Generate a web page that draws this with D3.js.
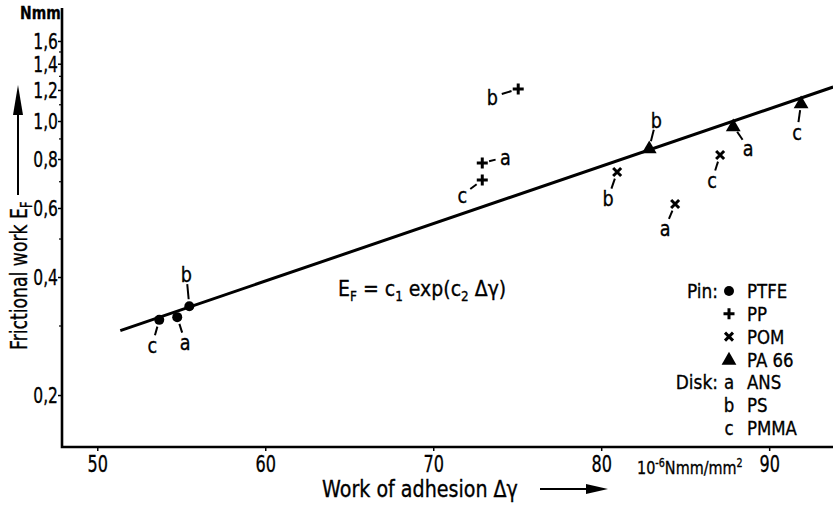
<!DOCTYPE html>
<html><head><meta charset="utf-8">
<script src="https://cdn.jsdelivr.net/npm/d3@7"></script>
<style>
body{margin:0;background:#fff}
svg{display:block}
text{font-family:"DejaVu Sans",sans-serif;fill:#000;stroke:#000;stroke-width:0.35px}
</style>
</head><body>
<svg id="c" width="833" height="505"></svg>
<script>
// ---- data ----
const pins = ["PTFE", "PP", "POM", "PA66"];
const pinLabels = ["PTFE", "PP", "POM", "PA 66"];
const diskKeys = ["a", "b", "c"];
const diskNames = ["ANS", "PS", "PMMA"];
// work of adhesion (10^-6 Nmm/mm^2), order a, b, c
const ptfeX = [54.76, 55.48, 53.69];
const ppX   = [72.92, 75.06, 72.92];
const pomX  = [84.40, 80.95, 87.08];
const pa66X = [87.86, 82.86, 91.90];
// frictional work (Nmm), order a, b, c
const ptfeY = [0.316, 0.337, 0.311];
const ppY   = [0.781, 1.207, 0.707];
const pomY  = [0.614, 0.741, 0.819];
const pa66Y = [0.971, 0.853, 1.111];
// fitted line E_F = c1 exp(c2 Δγ), end points
const fitX = [51.37, 93.81];
const fitY = [0.292, 1.221];
const yTickMajor = [0.2, 0.4, 0.6, 0.8, 1.0, 1.2, 1.4, 1.6];
const yTickMinor = [0.3, 0.5, 0.7, 0.9, 1.1, 1.3, 1.5];
const xTicks = [50, 60, 70, 80, 90];

// ---- layout (label offsets in px, per pin, order a,b,c) ----
const labelOffsets = {
  PTFE: [[8, 25], [-3, -32], [-7, 25]],
  PP:   [[23, -6], [-26, 8], [-20, 15]],
  POM:  [[-10, 24], [-9, 26], [-8, 25]],
  PA66: [[15, 22], [7, -28], [-4, 29]]
};

const xs = {PTFE: ptfeX, PP: ppX, POM: pomX, PA66: pa66X};
const ys = {PTFE: ptfeY, PP: ppY, POM: pomY, PA66: pa66Y};
const points = [];
pins.forEach(p => diskKeys.forEach((d, i) => points.push({pin: p, disk: d, x: xs[p][i], y: ys[p][i], off: labelOffsets[p][i]})));

const svg = d3.select("#c");
const x = d3.scaleLinear().domain([47.9, 93.8]).range([62, 833]);
const y = d3.scaleLog().domain([0.1474, 1.942]).range([447, 8]);

// condensed-text helper: squeeze glyphs horizontally around their anchor
function cond(sel, s) {
  sel.each(function () {
    const el = d3.select(this);
    const tx = +(el.attr("x") || 0), ty = +(el.attr("y") || 0);
    const t = el.attr("transform") || "";
    el.attr("x", 0).attr("y", 0).attr("transform", `${t} translate(${tx},${ty}) scale(${s},1)`);
  });
}

// axes
const yAxis = d3.axisLeft(y).tickValues(yTickMajor).tickSize(4).tickFormat(d => d3.format(".1f")(d).replace(".", ","));
const gy = svg.append("g").attr("transform", "translate(62,0)").call(yAxis);
gy.select(".domain").remove();
gy.selectAll("line").attr("stroke", "#000").attr("stroke-width", 1.5);
gy.selectAll("text").attr("font-size", 21).attr("x", -4).attr("dy", "0.36em").attr("font-family", "DejaVu Sans");
cond(gy.selectAll("text"), 0.74);
svg.append("g").selectAll("line").data(yTickMinor).join("line")
  .attr("x1", 59).attr("x2", 62).attr("y1", d => y(d)).attr("y2", d => y(d))
  .attr("stroke", "#000").attr("stroke-width", 1.2);

const xAxis = d3.axisBottom(x).tickValues(xTicks).tickSize(4).tickFormat(d3.format("d"));
const gx = svg.append("g").attr("transform", "translate(0,447)").call(xAxis);
gx.select(".domain").remove();
gx.selectAll("line").attr("stroke", "#000").attr("stroke-width", 1.5);
gx.selectAll("text").attr("font-size", 23).attr("y", 8).attr("dy", "0.72em").attr("font-family", "DejaVu Sans");
cond(gx.selectAll("text"), 0.7);

// axis lines
svg.append("path").attr("d", `M62,${y.range()[1]}V447H833`).attr("fill", "none").attr("stroke", "#000").attr("stroke-width", 2.6);

// unit labels
cond(svg.append("text").attr("x", 20).attr("y", 19).attr("font-size", 17).attr("font-weight", "bold").text("Nmm"), 0.82);
const unit = svg.append("text").attr("x", 637).attr("y", 474).attr("font-size", 18);
unit.append("tspan").text("10");
unit.append("tspan").attr("dy", -7).attr("font-size", 12).text("-6");
unit.append("tspan").attr("dy", 7).text("Nmm/mm");
unit.append("tspan").attr("dy", -7).attr("font-size", 12).text("2");
cond(unit, 0.8);

// axis titles
cond(svg.append("text").attr("x", 322).attr("y", 497).attr("font-size", 23).text("Work of adhesion Δγ"), 0.83);
svg.append("line").attr("x1", 540).attr("x2", 588).attr("y1", 489).attr("y2", 489).attr("stroke", "#000").attr("stroke-width", 2);
svg.append("path").attr("d", "M586,484L608,489L586,494Z").attr("fill", "#000");

const yt = svg.append("text").attr("transform", "translate(27,350) rotate(-90)").attr("font-size", 23);
yt.append("tspan").text("Frictional work E");
yt.append("tspan").attr("dy", 5).attr("font-size", 15).text("F");
cond(yt, 0.75);
svg.append("line").attr("x1", 18).attr("x2", 18).attr("y1", 195).attr("y2", 110).attr("stroke", "#000").attr("stroke-width", 2);
svg.append("path").attr("d", "M13,115L18,85L23,115Z").attr("fill", "#000");

// fitted line
svg.append("line")
  .attr("x1", x(fitX[0])).attr("y1", y(fitY[0]))
  .attr("x2", x(fitX[1])).attr("y2", y(fitY[1]))
  .attr("stroke", "#000").attr("stroke-width", 3);

// formula
const f = svg.append("text").attr("x", 338).attr("y", 296).attr("font-size", 22);
f.append("tspan").text("E");
f.append("tspan").attr("dy", 5).attr("font-size", 14).text("F");
f.append("tspan").attr("dy", -5).text(" = c");
f.append("tspan").attr("dy", 5).attr("font-size", 14).text("1");
f.append("tspan").attr("dy", -5).text(" exp(c");
f.append("tspan").attr("dy", 5).attr("font-size", 14).text("2");
f.append("tspan").attr("dy", -5).text(" Δγ)");
cond(f, 0.86);

// marker drawing
function marker(g, pin) {
  if (pin === "PTFE") g.append("circle").attr("r", 5).attr("fill", "#000");
  else if (pin === "PP") g.append("path").attr("d", "M-5.5,0H5.5M0,-5.5V5.5").attr("stroke", "#000").attr("stroke-width", 3);
  else if (pin === "POM") g.append("path").attr("d", "M-4,-4L4,4M-4,4L4,-4").attr("stroke", "#000").attr("stroke-width", 3);
  else g.append("path").attr("d", d3.symbol(d3.symbolTriangle, 95)()).attr("transform", "translate(0,1)").attr("fill", "#000");
}

const pg = svg.append("g");
points.forEach(p => {
  const px = x(p.x), py = y(p.y);
  const g = pg.append("g").attr("transform", `translate(${px},${py})`);
  marker(g, p.pin);
  const [dx, dy] = p.off;
  const len = Math.hypot(dx, dy), ux = dx / len, uy = dy / len;
  pg.append("line")
    .attr("x1", px + ux * 7).attr("y1", py + uy * 7)
    .attr("x2", px + dx - ux * 10).attr("y2", py + dy - uy * 10)
    .attr("stroke", "#000").attr("stroke-width", 2);
  cond(pg.append("text").attr("x", px + dx).attr("y", py + dy).attr("dy", "0.36em")
    .attr("text-anchor", "middle").attr("font-size", 22).text(p.disk), 0.8);
});

// legend
const lg = svg.append("g");
const rowY = d => 291 + d * 22.8;
cond(lg.append("text").attr("x", 718).attr("y", rowY(0)).attr("dy", "0.36em").attr("text-anchor", "end").attr("font-size", 20).text("Pin:"), 0.85);
pins.forEach((p, i) => {
  const g = lg.append("g").attr("transform", `translate(729,${rowY(i)})`);
  marker(g, p);
  cond(lg.append("text").attr("x", 747).attr("y", rowY(i)).attr("dy", "0.36em").attr("font-size", 20).text(pinLabels[i]), 0.83);
});
cond(lg.append("text").attr("x", 718).attr("y", rowY(4)).attr("dy", "0.36em").attr("text-anchor", "end").attr("font-size", 20).text("Disk:"), 0.85);
diskKeys.forEach((d, i) => {
  cond(lg.append("text").attr("x", 729).attr("y", rowY(4 + i)).attr("dy", "0.36em").attr("text-anchor", "middle").attr("font-size", 20).text(d), 0.83);
  cond(lg.append("text").attr("x", 747).attr("y", rowY(4 + i)).attr("dy", "0.36em").attr("font-size", 20).text(diskNames[i]), 0.83);
});
</script>
</body></html>
